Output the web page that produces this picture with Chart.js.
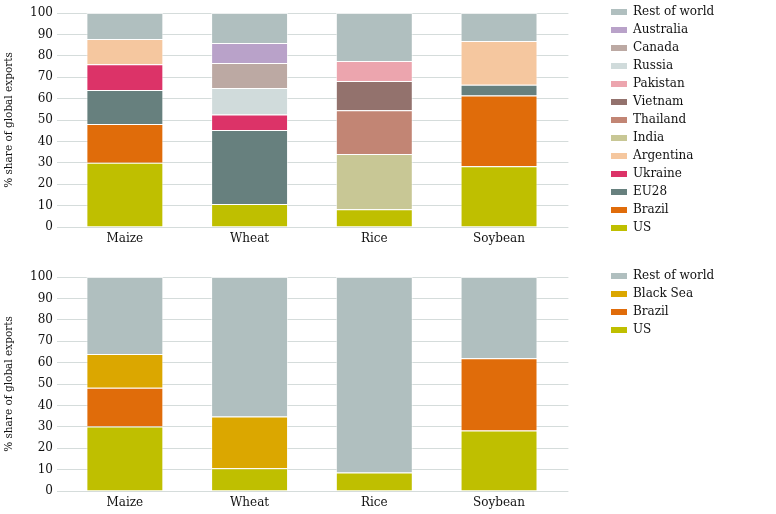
<!DOCTYPE html>
<html lang="en">
<head>
  <meta charset="UTF-8" />
  <title>Share of global exports</title>
  <script src="https://cdn.jsdelivr.net/npm/chart.js"></script>
  <style>
    html, body {
      margin: 0;
      padding: 0;
      background: #ffffff;
      overflow: hidden;
    }
    .panel {
      position: absolute;
      left: 0;
      width: 776px;
      height: 252px;
    }
    #topPanel { top: 0; }
    #bottomPanel { top: 264px; }
  </style>
</head>
<body>
  <div class="panel" id="topPanel"><canvas id="countryChart"></canvas></div>
  <div class="panel" id="bottomPanel"><canvas id="regionChart"></canvas></div>

  <script>
    // ---- data (percent share of global exports) ----
    const crops = ['Maize', 'Wheat', 'Rice', 'Soybean'];
    const yMin = 0, yMax = 100, yStep = 10;

    // top panel, by exporter
    const usShare        = [30.0, 10.7, 8.3, 28.4];
    const brazilShare    = [18.1, null, null, 33.1];
    const eu28Share      = [15.9, 34.6, null, 5.0];
    const ukraineShare   = [12.0, 7.3, null, null];
    const argentinaShare = [11.9, null, null, 20.4];
    const indiaShare     = [null, null, 25.8, null];
    const thailandShare  = [null, null, 20.4, null];
    const vietnamShare   = [null, null, 13.7, null];
    const pakistanShare  = [null, null, 9.4, null];
    const russiaShare    = [null, 12.4, null, null];
    const canadaShare    = [null, 11.6, null, null];
    const australiaShare = [null, 9.4, null, null];
    const restShare      = [12.1, 14.0, 22.4, 13.1];

    // bottom panel, by region
    const usRegion       = [30.1, 10.6, 8.7, 28.3];
    const brazilRegion   = [18.2, null, null, 33.7];
    const blackSeaRegion = [15.7, 24.2, null, null];
    const restRegion     = [36.0, 65.2, 91.3, 38.0];

    const colors = {
      'US': '#bfbf00',
      'Brazil': '#e06c0a',
      'EU28': '#67807e',
      'Ukraine': '#dc3368',
      'Argentina': '#f5c79f',
      'India': '#c8c795',
      'Thailand': '#c28574',
      'Vietnam': '#93726d',
      'Pakistan': '#eca5ae',
      'Russia': '#d0dbdb',
      'Canada': '#bca9a3',
      'Australia': '#b9a2c9',
      'Black Sea': '#dba700',
      'Rest of world': '#b0bfbf'
    };

    const countrySeries = [
      ['US', usShare], ['Brazil', brazilShare], ['EU28', eu28Share],
      ['Ukraine', ukraineShare], ['Argentina', argentinaShare], ['India', indiaShare],
      ['Thailand', thailandShare], ['Vietnam', vietnamShare], ['Pakistan', pakistanShare],
      ['Russia', russiaShare], ['Canada', canadaShare], ['Australia', australiaShare],
      ['Rest of world', restShare]
    ];
    const regionSeries = [
      ['US', usRegion], ['Brazil', brazilRegion],
      ['Black Sea', blackSeaRegion], ['Rest of world', restRegion]
    ];

    // ---- look ----
    const FONT = '"DejaVu Serif", serif';
    const TEXT = '#111111';
    const GRID = '#d5dcdb';
    Chart.defaults.font.family = FONT;
    Chart.defaults.color = TEXT;

    // plot box inside each 776x252 canvas
    const PLOT_TOP = 13, PLOT_BOTTOM = 227;
    const LEFT_AXIS_W = 62.5;
    const PLOT_RIGHT = 561.4;
    const LEGEND_LEFT = 605;
    const LEGEND_PAD = 6, BOX_W = 16, LEG_FONT = 12;

    // legend width as Chart.js computes it, so the legend can start at LEGEND_LEFT
    function rightPadding(names) {
      const ctx = document.createElement('canvas').getContext('2d');
      ctx.font = 'normal ' + LEG_FONT + 'px ' + FONT;
      const textW = Math.max(...names.map(n => ctx.measureText(n).width));
      const legendW = LEGEND_PAD + BOX_W + LEG_FONT / 2 + textW + 10;
      return 776 - LEGEND_LEFT - legendW;
    }

    function makeChart(id, series) {
      const names = series.map(s => s[0]);
      return new Chart(document.getElementById(id), {
        type: 'bar',
        data: {
          labels: crops,
          datasets: series.map(([name, values]) => ({
            label: name,
            data: values,
            backgroundColor: colors[name],
            borderColor: 'rgba(255,255,255,0.55)',
            borderWidth: 1,
            barPercentage: 1,
            categoryPercentage: 0.617
          }))
        },
        options: {
          responsive: true,
          maintainAspectRatio: false,
          animation: false,
          layout: { padding: { top: 0, bottom: 0, left: 0, right: rightPadding(names) } },
          plugins: {
            tooltip: { enabled: false },
            legend: {
              position: 'right',
              align: 'start',
              reverse: true,
              labels: {
                boxWidth: BOX_W,
                boxHeight: 6,
                padding: LEGEND_PAD,
                color: TEXT,
                font: { size: LEG_FONT },
                generateLabels: c => Chart.defaults.plugins.legend.labels.generateLabels(c)
                  .map(l => ({ ...l, strokeStyle: l.fillStyle, lineWidth: 0 }))
              }
            }
          },
          scales: {
            x: {
              stacked: true,
              grid: { display: false, drawTicks: false },
              border: { display: false },
              ticks: { padding: 4.4, color: TEXT, font: { size: 12, lineHeight: 1.2 } },
              afterFit: s => { s.height = 252 - PLOT_BOTTOM; }
            },
            y: {
              stacked: true,
              min: yMin,
              max: yMax,
              ticks: { stepSize: yStep, autoSkip: false, padding: 4, color: TEXT, font: { size: 12 } },
              grid: { color: GRID, tickLength: 5.5 },
              border: { display: false },
              title: {
                display: true,
                text: '% share of global exports',
                color: TEXT,
                font: { size: 10.5 },
                padding: { top: 3, bottom: 0 }
              },
              afterFit: s => {
                s.width = LEFT_AXIS_W;
                s.paddingTop = PLOT_TOP;
                s.paddingBottom = 0;
              }
            },
            yRight: {
              position: 'right',
              min: yMin,
              max: yMax,
              ticks: { stepSize: yStep, autoSkip: false, display: false },
              grid: { color: GRID, drawOnChartArea: false, tickLength: 7 },
              border: { display: false },
              afterFit: s => {
                s.width = LEGEND_LEFT - PLOT_RIGHT;
                s.paddingTop = 0;
                s.paddingBottom = 0;
              }
            }
          }
        }
      });
    }

    makeChart('countryChart', countrySeries);
    makeChart('regionChart', regionSeries);
  </script>
</body>
</html>
